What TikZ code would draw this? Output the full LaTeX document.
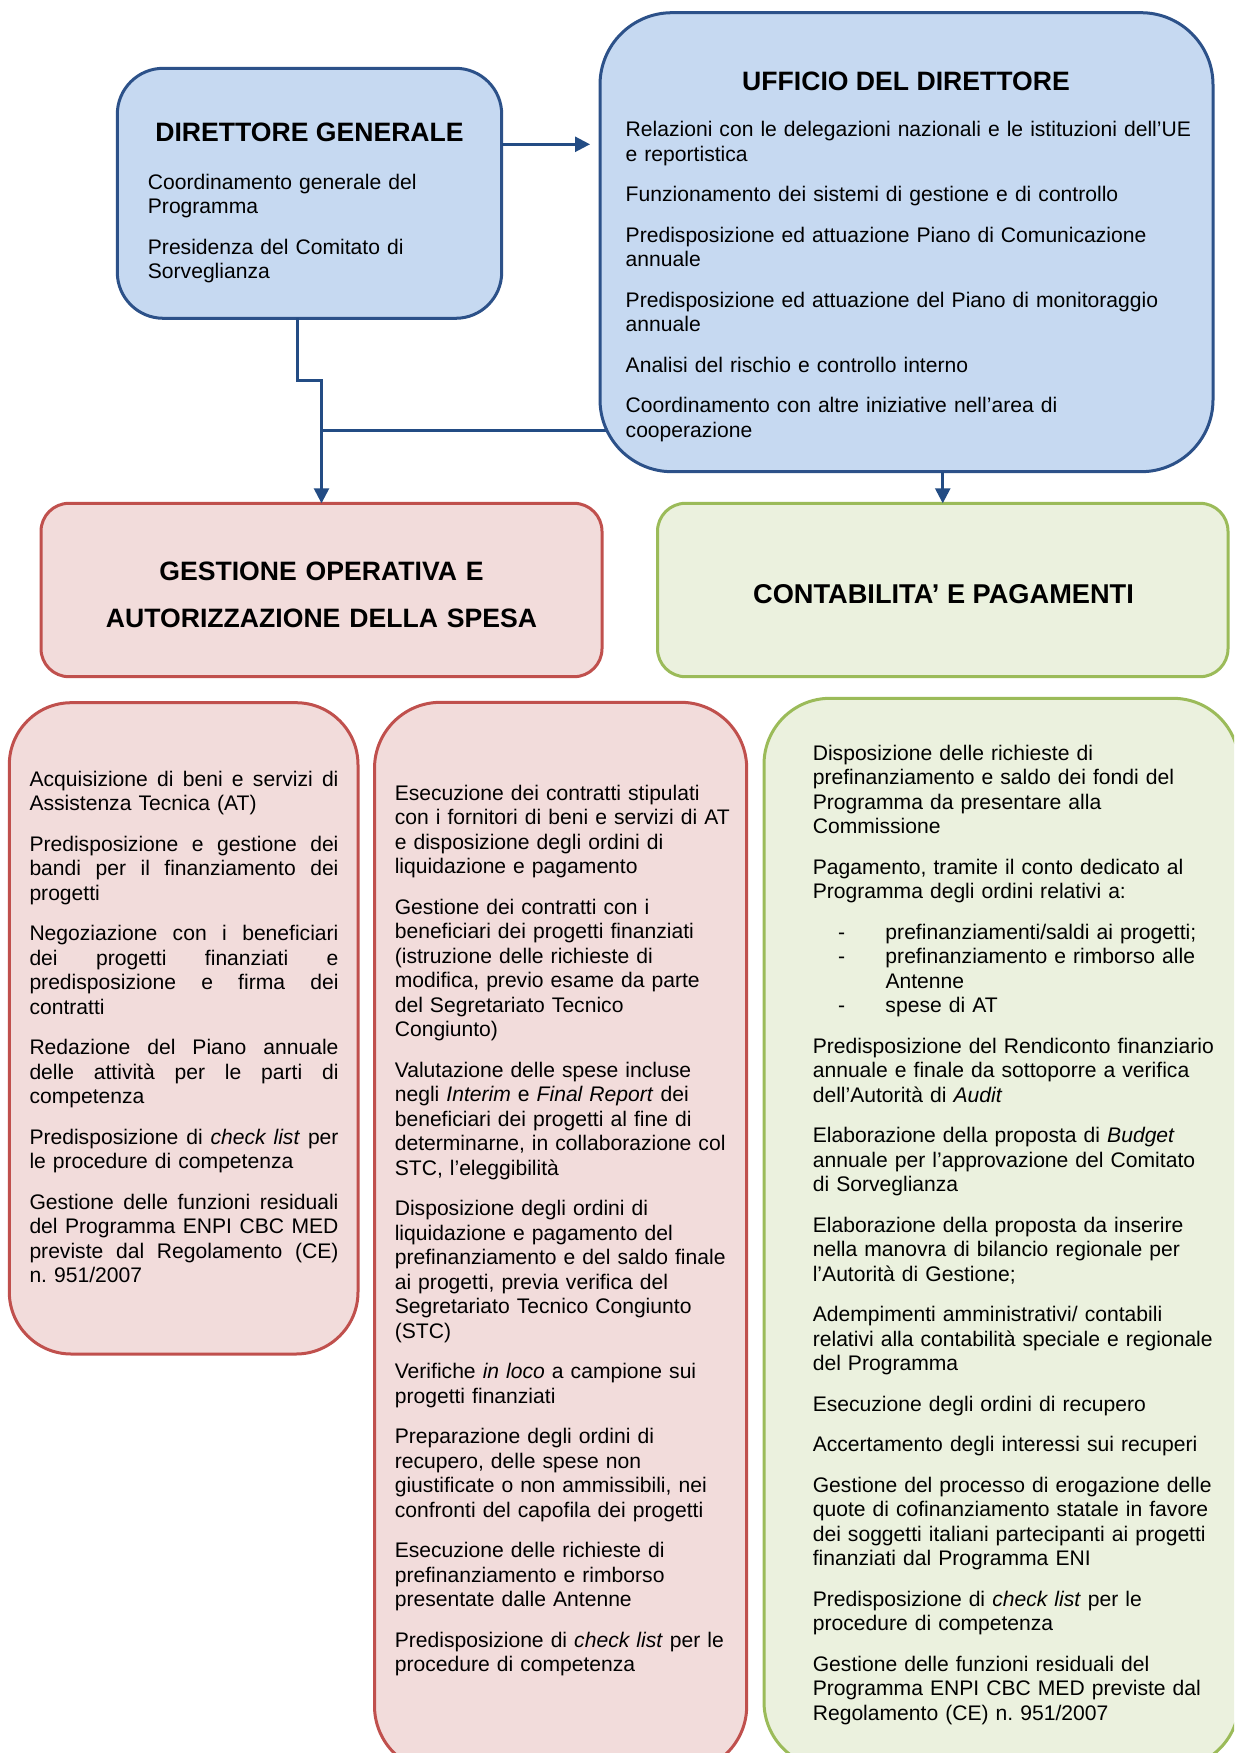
\documentclass[tikz,border=0pt]{standalone}
\usepackage{fontspec}
\setmainfont{Liberation Sans}
\usetikzlibrary{arrows.meta,backgrounds}

\definecolor{bluefill}{HTML}{C6D9F1}
\definecolor{blueline}{HTML}{2C5189}
\definecolor{navy}{HTML}{234C84}
\definecolor{redfill}{HTML}{F2DCDB}
\definecolor{redline}{HTML}{C0504D}
\definecolor{greenfill}{HTML}{EBF1DE}
\definecolor{greenline}{HTML}{9BBB59}

\frenchspacing
\newcommand\bodyfont{\fontsize{21.1pt}{24.5pt}\selectfont\frenchspacing}
\newcommand\titlefont{\fontsize{26.6pt}{47pt}\selectfont\bfseries}
\newcommand\jline[1]{\leavevmode\hbox to 309pt{\spaceskip=0.278em plus 1fil\relax\xspaceskip=\spaceskip #1}}
\newcommand\dashitem[1]{\hspace*{25.4pt}\makebox[47.3pt][l]{-}#1}

\tikzset{
  box/.style={draw, line width=3pt, rectangle, anchor=north west, inner sep=0pt, outer sep=0pt},
  bluebox/.style={box, fill=bluefill, draw=blueline},
  redbox/.style={box, fill=redfill, draw=redline},
  greenbox/.style={box, fill=greenfill, draw=greenline},
  body/.style={anchor=north west, inner sep=0pt, align=left, font=\bodyfont, text width=#1},
  title/.style={anchor=base, inner sep=0pt, font=\titlefont},
  conn/.style={draw=navy, line width=2.6pt},
  tip/.style={-{Triangle[length=15pt,width=15pt]}}
}

\begin{document}
\begin{tikzpicture}[x=1pt,y=-1pt]
\useasboundingbox (0,0) rectangle (1234,1753);
\clip (0,0) rectangle (1234,1753);

% ---------- boxes ----------
\node[bluebox, rounded corners=46pt, minimum width=384.4pt, minimum height=250pt] (dg) at (117.3,68.3) {};
\node[bluebox, rounded corners=72pt, minimum width=613pt, minimum height=459pt] (ud) at (600,12.7) {};
\node[redbox, rounded corners=28pt, minimum width=561pt, minimum height=173.4pt] (gest) at (41,503.3) {};
\node[greenbox, rounded corners=28pt, minimum width=570.5pt, minimum height=173.4pt] (cont) at (657.5,503.3) {};
\node[redbox, rounded corners=62pt, minimum width=348.7pt, minimum height=651.3pt] (c1) at (9.3,702.7) {};
\node[redbox, rounded corners=66pt, minimum width=372.2pt, minimum height=1069.7pt] (c2) at (374.5,702.3) {};
\node[greenbox, rounded corners=66pt, minimum width=475pt, minimum height=1069.7pt] (c3) at (764,698.3) {};

% ---------- connectors ----------
\begin{pgfonlayer}{background}
  \fill[white] (0,0) rectangle (1234,1753);
  \draw[conn] ([yshift=41pt]ud.south) -- ([yshift=41pt]ud.south -| gest.north);
\end{pgfonlayer}
\draw[conn, tip, shorten >=10pt] ([yshift=-76pt]dg.north east) -- ([yshift=-76pt]dg.north east -| ud.west);
\draw[conn, tip] ([xshift=-11.8pt]dg.south) |- ([yshift=123pt]gest.north) -- (gest.north);
\draw[conn, tip] (ud.south -| cont.north) -- (cont.north);

% ---------- titles ----------
\node[title] (dgtitle) at (309.5,141.7) {DIRETTORE GENERALE};
\node[title] (udtitle) at (906,90.7) {UFFICIO DEL DIRETTORE};
\node[anchor=north, inner sep=0pt, align=center, font=\titlefont, text width=600pt] (gesttitle) at (321.5,547.6)
  {\strut GESTIONE OPERATIVA E\\AUTORIZZAZIONE DELLA SPESA};
\node[title, font=\fontsize{27.2pt}{32pt}\selectfont\bfseries] (conttitle) at (943.5,603) {CONTABILITA’ E PAGAMENTI};

% ---------- texts ----------
\node[body=340pt] (dgtext) at (147.7,171.85) {\strut Coordinamento generale del\\
Programma\\[16pt]
Presidenza del Comitato di\\
Sorveglianza};

\node[body=580pt] (udtext) at (625.5,119.5) {\strut Relazioni con le delegazioni nazionali e le istituzioni dell’UE\\
e reportistica\\[16pt]
Funzionamento dei sistemi di gestione e di controllo\\[16pt]
Predisposizione ed attuazione Piano di Comunicazione\\
annuale\\[16pt]
Predisposizione ed attuazione del Piano di monitoraggio\\
annuale\\[16pt]
Analisi del rischio e controllo interno\\[16pt]
Coordinamento con altre iniziative nell’area di\\
cooperazione};

\node[body=312pt] (c1text) at (29.3,768.85) {\strut\jline{Acquisizione di beni e servizi di}\\
Assistenza Tecnica (AT)\\[16pt]
\jline{Predisposizione e gestione dei}\\
\jline{bandi per il finanziamento dei}\\
progetti\\[16pt]
\jline{Negoziazione con i beneficiari}\\
\jline{dei progetti finanziati e}\\
\jline{predisposizione e firma dei}\\
contratti\\[16pt]
\jline{Redazione del Piano annuale}\\
\jline{delle attività per le parti di}\\
competenza\\[16pt]
\jline{Predisposizione di \textit{check list} per}\\
le procedure di competenza\\[16pt]
\jline{Gestione delle funzioni residuali}\\
\jline{del Programma ENPI CBC MED}\\
\jline{previste dal Regolamento (CE)}\\
n. 951/2007};

\node[body=345pt] (c2text) at (394.6,782.85) {\strut Esecuzione dei contratti stipulati\\
con i fornitori di beni e servizi di AT\\
e disposizione degli ordini di\\
liquidazione e pagamento\\[16pt]
Gestione dei contratti con i\\
beneficiari dei progetti finanziati\\
(istruzione delle richieste di\\
modifica, previo esame da parte\\
del Segretariato Tecnico\\
Congiunto)\\[16pt]
Valutazione delle spese incluse\\
negli \textit{Interim} e \textit{Final Report} dei\\
beneficiari dei progetti al fine di\\
determinarne, in collaborazione col\\
STC, l’eleggibilità\\[16pt]
Disposizione degli ordini di\\
liquidazione e pagamento del\\
prefinanziamento e del saldo finale\\
ai progetti, previa verifica del\\
Segretariato Tecnico Congiunto\\
(STC)\\[16pt]
Verifiche \textit{in loco} a campione sui\\
progetti finanziati\\[16pt]
Preparazione degli ordini di\\
recupero, delle spese non\\
giustificate o non ammissibili, nei\\
confronti del capofila dei progetti\\[16pt]
Esecuzione delle richieste di\\
prefinanziamento e rimborso\\
presentate dalle Antenne\\[16pt]
Predisposizione di \textit{check list} per le\\
procedure di competenza};

\node[body=415pt] (c3text) at (812.6,742.65) {\strut Disposizione delle richieste di\\
prefinanziamento e saldo dei fondi del\\
Programma da presentare alla\\
Commissione\\[16pt]
Pagamento, tramite il conto dedicato al\\
Programma degli ordini relativi a:\\[16pt]
\dashitem{prefinanziamenti/saldi ai progetti;}\\
\dashitem{prefinanziamento e rimborso alle}\\
\hspace*{72.7pt}Antenne\\
\dashitem{spese di AT}\\[16pt]
Predisposizione del Rendiconto finanziario\\
annuale e finale da sottoporre a verifica\\
dell’Autorità di \textit{Audit}\\[16pt]
Elaborazione della proposta di \textit{Budget}\\
annuale per l’approvazione del Comitato\\
di Sorveglianza\\[16pt]
Elaborazione della proposta da inserire\\
nella manovra di bilancio regionale per\\
l’Autorità di Gestione;\\[16pt]
Adempimenti amministrativi/ contabili\\
relativi alla contabilità speciale e regionale\\
del Programma\\[16pt]
Esecuzione degli ordini di recupero\\[16pt]
Accertamento degli interessi sui recuperi\\[16pt]
Gestione del processo di erogazione delle\\
quote di cofinanziamento statale in favore\\
dei soggetti italiani partecipanti ai progetti\\
finanziati dal Programma ENI\\[16pt]
Predisposizione di \textit{check list} per le\\
procedure di competenza\\[16pt]
Gestione delle funzioni residuali del\\
Programma ENPI CBC MED previste dal\\
Regolamento (CE) n. 951/2007};
\end{tikzpicture}
\end{document}
